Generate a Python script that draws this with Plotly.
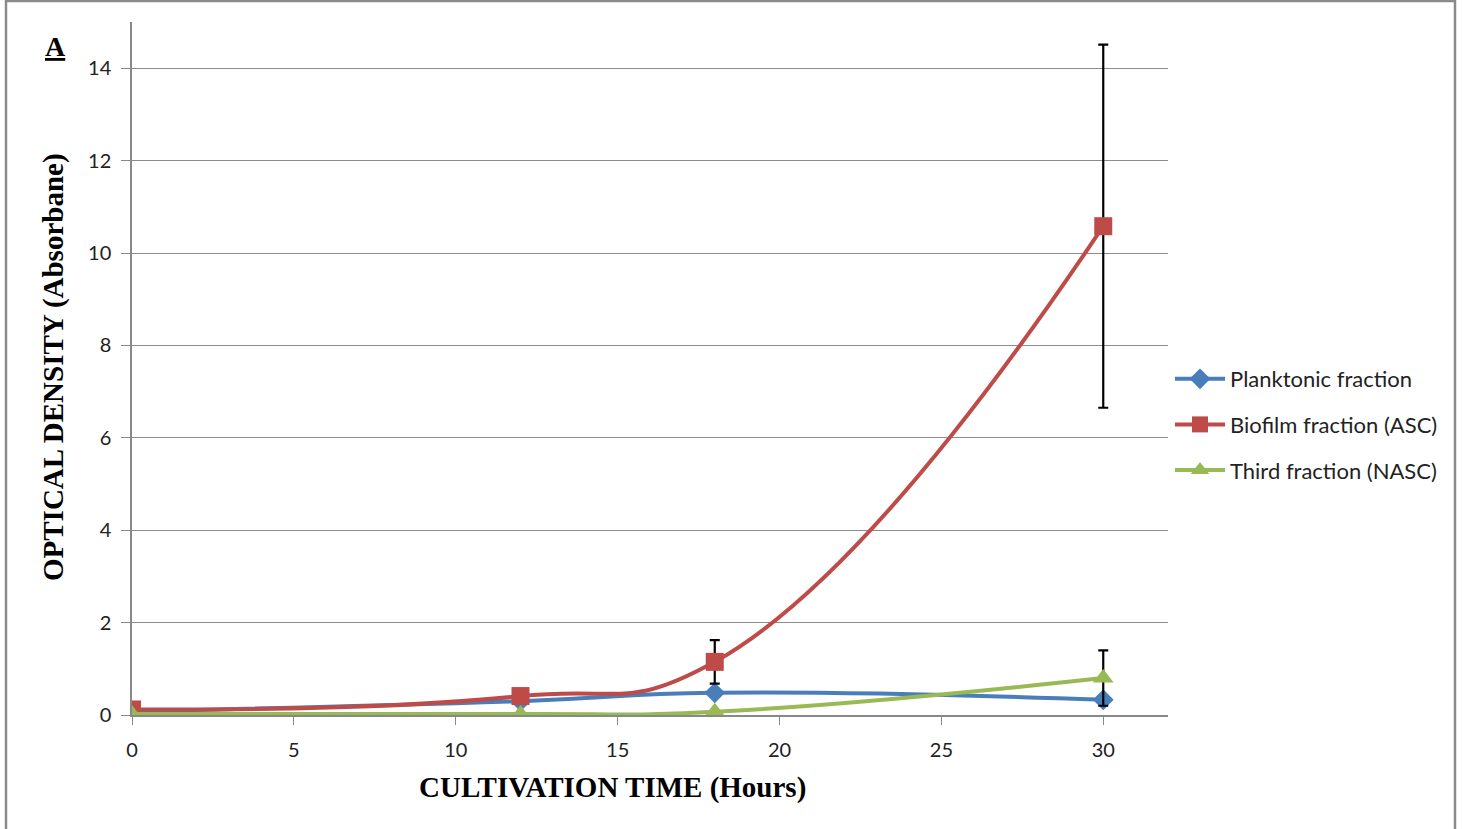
import plotly.graph_objects as go

hours = [0, 12, 18, 30]
planktonic = [0.08, 0.30, 0.48, 0.33]
biofilm = [0.12, 0.41, 1.15, 10.58]
third = [0.02, 0.02, 0.07, 0.80]
biofilm_err = [0, 0, 0.47, 3.93]
third_err = [0, 0, 0, 0.60]

series_names = ["Planktonic fraction", "Biofilm fraction (ASC)", "Third fraction (NASC)"]
colors = ["#4A7EBB", "#BE4B48", "#98B954"]
symbols = ["diamond", "square", "triangle-up"]

W, H = 1462, 829
L, R, T, B = 132, 1168, 22, 715

fig = go.Figure()
err_styles = dict(type="data", visible=True, color="black", thickness=2.2, width=5)
fig.add_trace(go.Scatter(x=hours, y=planktonic, name=series_names[0], mode="lines+markers",
                         legendgroup="a",
                         line=dict(color=colors[0], width=4, shape="spline", smoothing=1.3),
                         marker=dict(symbol=symbols[0], size=16, color=colors[0])))
fig.add_trace(go.Scatter(x=hours, y=biofilm, name=series_names[1], mode="lines+markers",
                         legendgroup="b",
                         line=dict(color=colors[1], width=4, shape="spline", smoothing=1.3),
                         marker=dict(symbol=symbols[1], size=18, color=colors[1]),
                         error_y=dict(array=biofilm_err, **err_styles)))
fig.add_trace(go.Scatter(x=hours, y=third, name=series_names[2], mode="lines+markers",
                         legendgroup="c",
                         line=dict(color=colors[2], width=4, shape="spline", smoothing=1.3),
                         marker=dict(symbol=symbols[2], size=18, color=colors[2]),
                         error_y=dict(array=third_err, **err_styles)))

def px_to_paper_x(px):
    return (px - L) / (R - L)

def px_to_paper_y(py):
    return (B - py) / (B - T)

tick_font = dict(family="Lato, 'Open Sans', sans-serif", size=20, color="#222")
fig.update_layout(
    width=W, height=H,
    margin=dict(l=L, r=W - R, t=T, b=H - B),
    plot_bgcolor="white", paper_bgcolor="white",
    showlegend=True,
    legend=dict(x=px_to_paper_x(1170), y=px_to_paper_y(358), xanchor="left", yanchor="top",
                font=dict(family="Lato, 'Open Sans', sans-serif", size=22, color="#222"),
                itemwidth=50, tracegroupgap=14, bgcolor="rgba(0,0,0,0)"),
    xaxis=dict(range=[0, 32], tickvals=[0, 5, 10, 15, 20, 25, 30], showgrid=False,
               showline=True, linecolor="#888", linewidth=1.5, ticks="outside", ticklen=8,
               tickcolor="#888", tickfont=tick_font, zeroline=False, ticklabelstandoff=8),
    yaxis=dict(range=[0, 15], tickvals=[0, 2, 4, 6, 8, 10, 12, 14], showgrid=True,
               gridcolor="#8c8c8c", gridwidth=1.2, showline=True, linecolor="#888", linewidth=1.5,
               ticks="outside", ticklen=9, tickcolor="#888", tickfont=tick_font, zeroline=False,
               ticklabelstandoff=6),
    annotations=[
        dict(text="<b>CULTIVATION TIME (Hours)</b>", x=px_to_paper_x(612), y=px_to_paper_y(787),
             xref="paper", yref="paper", showarrow=False, xanchor="center", yanchor="middle",
             font=dict(family="Liberation Serif, Times New Roman, serif", size=29, color="black")),
        dict(text="<b>OPTICAL DENSITY (Absorbane)</b>", x=px_to_paper_x(53), y=px_to_paper_y(367),
             xref="paper", yref="paper", showarrow=False, xanchor="center", yanchor="middle",
             textangle=-90,
             font=dict(family="Liberation Serif, Times New Roman, serif", size=29, color="black")),
        dict(text="<b><u>A</u></b>", x=px_to_paper_x(55), y=px_to_paper_y(47),
             xref="paper", yref="paper", showarrow=False, xanchor="center", yanchor="middle",
             font=dict(family="Liberation Serif, Times New Roman, serif", size=28, color="black")),
    ],
    shapes=[
        dict(type="rect", xref="paper", yref="paper",
             x0=px_to_paper_x(6), x1=px_to_paper_x(1455), y0=px_to_paper_y(860), y1=px_to_paper_y(1),
             line=dict(color="#8a8a8a", width=2.5), fillcolor="rgba(0,0,0,0)", layer="below"),
    ],
)

fig.write_html("out.html")
